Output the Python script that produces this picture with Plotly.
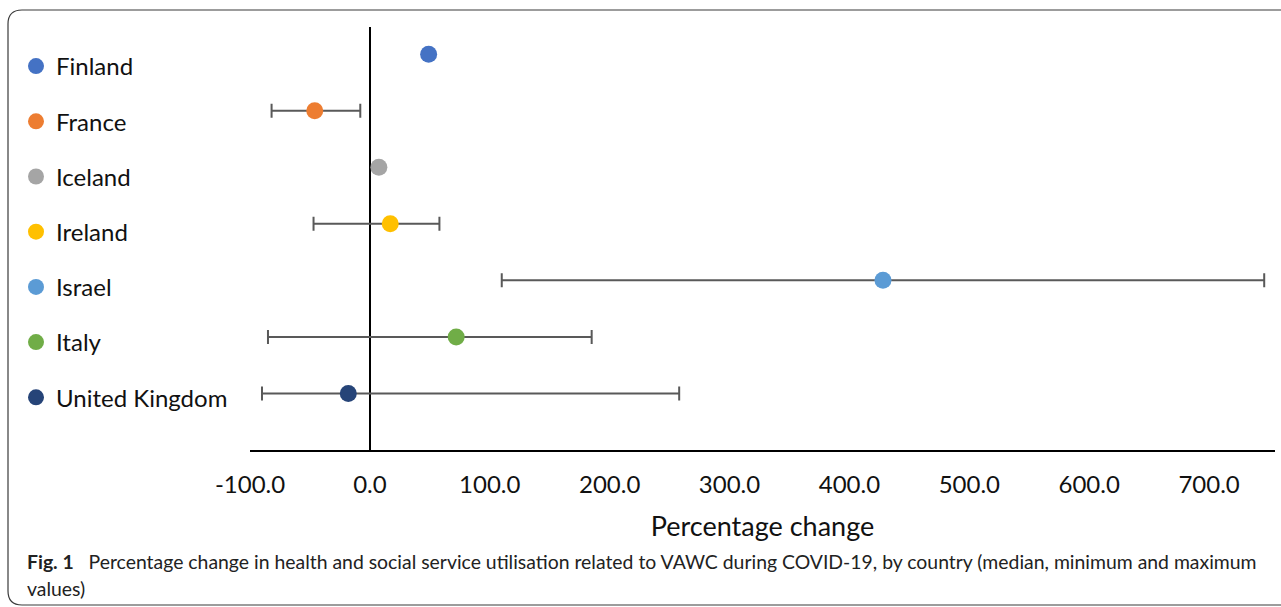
import plotly.graph_objects as go

# Percentage change per country: median with minimum and maximum
countries = ["Finland", "France", "Iceland", "Ireland", "Israel", "Italy", "United Kingdom"]
median_vals = [49.0, -46.0, 7.5, 17.0, 428.0, 72.0, -18.0]
min_vals = [None, -82.0, None, -47.0, 110.0, -85.0, -90.0]
max_vals = [None, -8.0, None, 58.0, 746.0, 185.0, 258.0]
colors = ["#4472C4", "#ED7D31", "#A5A5A5", "#FFC000", "#5B9BD5", "#70AD47", "#264478"]

tick_vals = [-100, 0, 100, 200, 300, 400, 500, 600, 700]
tick_text = ["-100.0", "0.0", "100.0", "200.0", "300.0", "400.0", "500.0", "600.0", "700.0"]

W, H = 1281, 607
ML, MR, MT, MB = 250, 6, 27, 157
PW, PH = W - ML - MR, H - MT - MB


def px_x(p):
    return (p - ML) / PW


def px_y(p):
    return (H - MB - p) / PH


fig = go.Figure()
for i, c in enumerate(countries):
    err = None
    if min_vals[i] is not None:
        err = dict(
            type="data",
            symmetric=False,
            array=[max_vals[i] - median_vals[i]],
            arrayminus=[median_vals[i] - min_vals[i]],
            color="#595959",
            thickness=2,
            width=7,
        )
    fig.add_trace(
        go.Scatter(
            x=[median_vals[i]],
            y=[c],
            mode="markers",
            name=c,
            legendgroup=c,
            marker=dict(color=colors[i], size=17, line=dict(width=0)),
            error_x=err,
        )
    )

# rounded outer frame
x0, x1 = px_x(8), px_x(1310)
y0, y1 = px_y(10), px_y(605)
rx, ry = 14 / PW, 14 / PH
frame = (
    f"M {x0 + rx},{y0} L {x1 - rx},{y0} Q {x1},{y0} {x1},{y0 - ry} "
    f"L {x1},{y1 + ry} Q {x1},{y1} {x1 - rx},{y1} "
    f"L {x0 + rx},{y1} Q {x0},{y1} {x0},{y1 + ry} "
    f"L {x0},{y0 - ry} Q {x0},{y0} {x0 + rx},{y0} Z"
)
fig.add_shape(type="path", path=frame, xref="paper", yref="paper",
              line=dict(color="#3a3a3a", width=1.2), layer="below")

cap_font = dict(family="Lato, Open Sans, sans-serif", size=19.4, color="#222222")
fig.add_annotation(
    xref="paper", yref="paper", x=px_x(25), y=px_y(561),
    xanchor="left", yanchor="middle", showarrow=False, align="left",
    text="<b>Fig. 1</b>\u00a0\u00a0 Percentage change in health and social service utilisation "
         "related to VAWC during COVID-19, by country (median, minimum and maximum",
    font=cap_font,
)
fig.add_annotation(
    xref="paper", yref="paper", x=px_x(25), y=px_y(588),
    xanchor="left", yanchor="middle", showarrow=False, align="left",
    text="values)", font=cap_font,
)

fig.update_layout(
    width=W,
    height=H,
    margin=dict(l=ML, r=MR, t=MT, b=MB),
    paper_bgcolor="white",
    plot_bgcolor="white",
    font=dict(family="Lato, Open Sans, sans-serif", color="#111111", size=24),
    showlegend=True,
    legend=dict(
        x=px_x(16), y=px_y(44), xanchor="left", yanchor="top",
        font=dict(size=24, color="#111111"),
        tracegroupgap=21,
        itemclick=False,
        bgcolor="rgba(0,0,0,0)",
    ),
    xaxis=dict(
        range=[-100, 755],
        tickvals=tick_vals,
        ticktext=tick_text,
        showgrid=False,
        zeroline=True,
        zerolinecolor="black",
        zerolinewidth=2,
        showline=True,
        linecolor="black",
        linewidth=2,
        ticks="",
        ticklabelstandoff=12,
        tickfont=dict(size=24),
        title=dict(text="Percentage change", font=dict(size=27), standoff=20),
    ),
    yaxis=dict(
        type="category",
        categoryorder="array",
        categoryarray=countries,
        range=[7.0, -0.48],
        showticklabels=False,
        showgrid=False,
        zeroline=False,
        showline=False,
        ticks="",
    ),
)

fig.write_html("out.html")
